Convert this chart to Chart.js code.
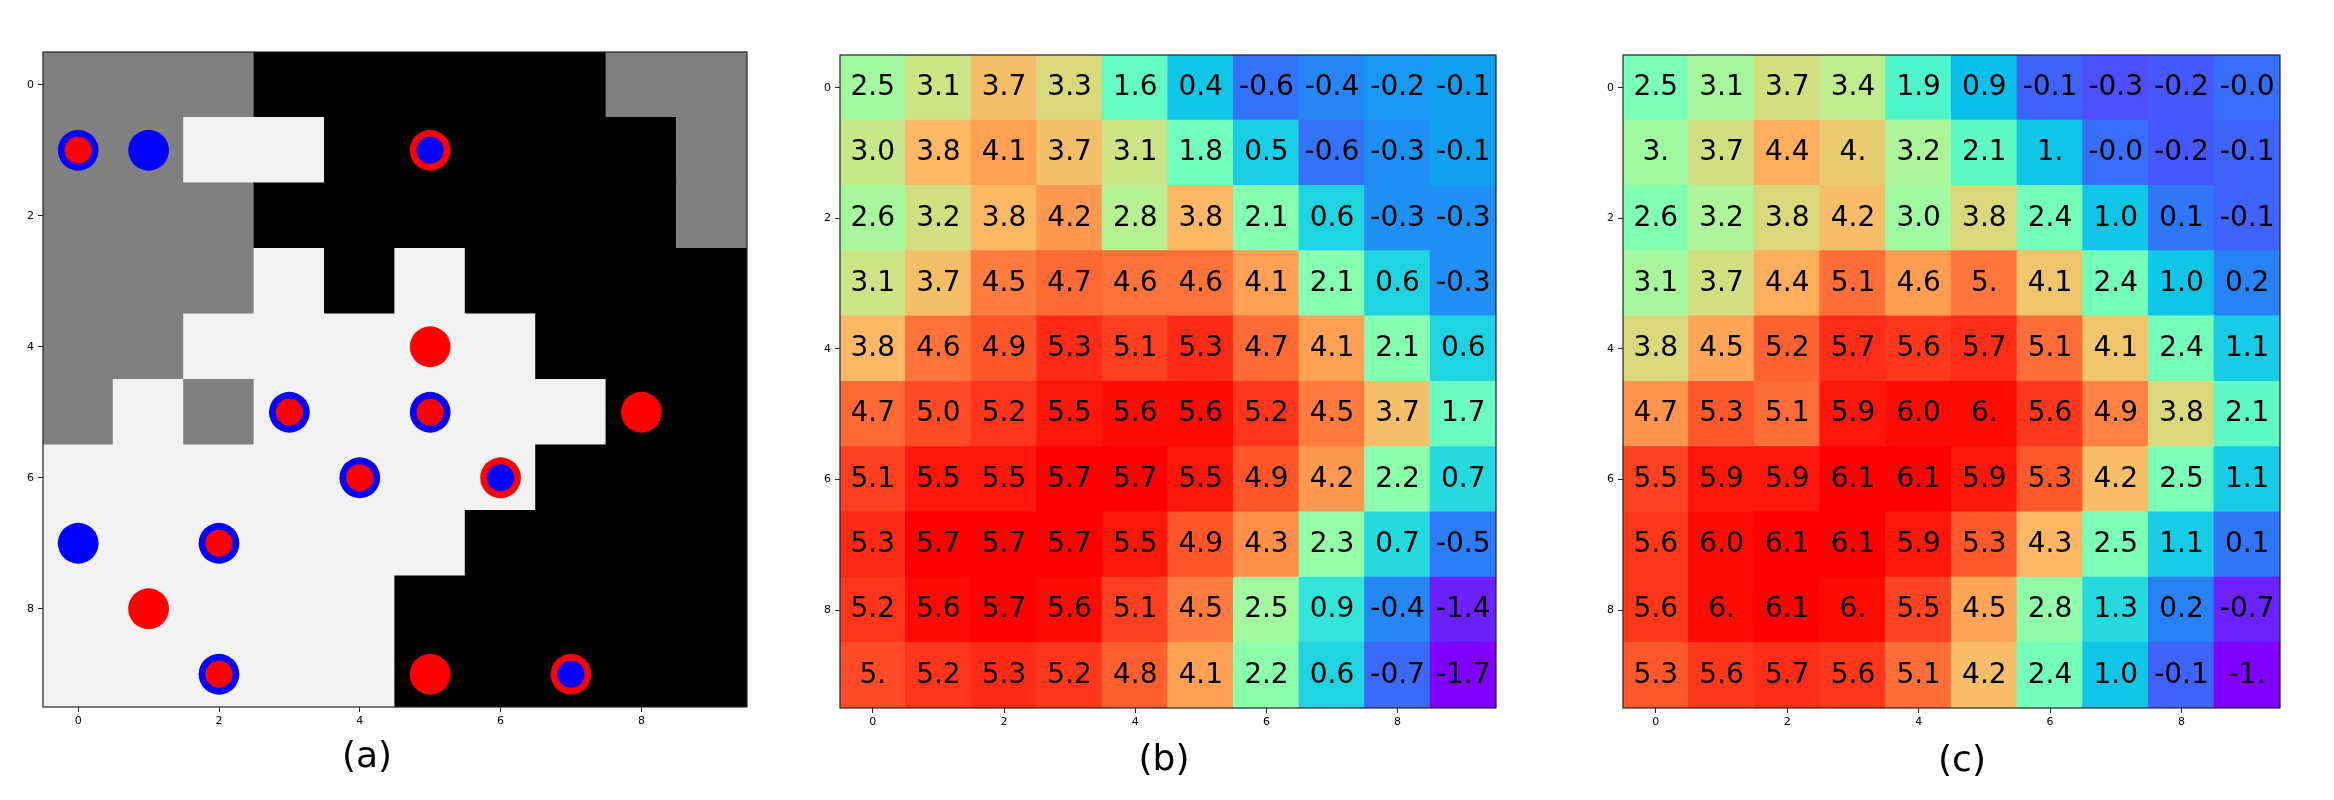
<!DOCTYPE html>
<html>
<head>
<meta charset="utf-8">
<script src="https://cdn.jsdelivr.net/npm/chart.js@4.4.1/dist/chart.umd.min.js"></script>
<style>
  body { margin: 0; width: 2334px; height: 800px; background: #fff; position: relative; overflow: hidden; font-family: 'DejaVu Sans'; }
  .panel { position: absolute; top: 0; height: 800px; }
  .caption { position: absolute; width: 200px; text-align: center; font-size: 36px; line-height: 36px; color: #000; }
</style>
</head>
<body>
<div class="panel" style="left:0;width:760px"><canvas id="mapChart"></canvas></div>
<div class="panel" style="left:800px;width:720px"><canvas id="estChart"></canvas></div>
<div class="panel" style="left:1580px;width:754px"><canvas id="predChart"></canvas></div>
<div class="caption" style="left:267px;top:737px">(a)</div>
<div class="caption" style="left:1064px;top:740px">(b)</div>
<div class="caption" style="left:1862px;top:741px">(c)</div>
<script>
const gridTicks = [0, 2, 4, 6, 8];

// (a) gray level of each cell, row by row (0 = black, 0.5 = gray, 0.95 = free)
const mapRows = [
  [0.5, 0.5, 0.5, 0, 0, 0, 0, 0, 0.5, 0.5],
  [0.5, 0.5, 0.95, 0.95, 0, 0, 0, 0, 0, 0.5],
  [0.5, 0.5, 0.5, 0, 0, 0, 0, 0, 0, 0.5],
  [0.5, 0.5, 0.5, 0.95, 0, 0.95, 0, 0, 0, 0],
  [0.5, 0.5, 0.95, 0.95, 0.95, 0.95, 0.95, 0, 0, 0],
  [0.5, 0.95, 0.5, 0.95, 0.95, 0.95, 0.95, 0.95, 0, 0],
  [0.95, 0.95, 0.95, 0.95, 0.95, 0.95, 0.95, 0, 0, 0],
  [0.95, 0.95, 0.95, 0.95, 0.95, 0.95, 0, 0, 0, 0],
  [0.95, 0.95, 0.95, 0.95, 0.95, 0, 0, 0, 0, 0],
  [0.95, 0.95, 0.95, 0.95, 0.95, 0, 0, 0, 0, 0]
];

// (a) markers as [col, row]
const blueOuter = [[0, 1], [1, 1], [3, 5], [5, 5], [4, 6], [0, 7], [2, 7], [2, 9]];
const redOuter = [[5, 1], [5, 4], [8, 5], [6, 6], [1, 8], [5, 9], [7, 9]];
const redInner = [[0, 1], [3, 5], [5, 5], [4, 6], [2, 7], [2, 9]];
const blueInner = [[5, 1], [6, 6], [7, 9]];

// (b) values as printed
const estRows = [
  ['2.5', '3.1', '3.7', '3.3', '1.6', '0.4', '-0.6', '-0.4', '-0.2', '-0.1'],
  ['3.0', '3.8', '4.1', '3.7', '3.1', '1.8', '0.5', '-0.6', '-0.3', '-0.1'],
  ['2.6', '3.2', '3.8', '4.2', '2.8', '3.8', '2.1', '0.6', '-0.3', '-0.3'],
  ['3.1', '3.7', '4.5', '4.7', '4.6', '4.6', '4.1', '2.1', '0.6', '-0.3'],
  ['3.8', '4.6', '4.9', '5.3', '5.1', '5.3', '4.7', '4.1', '2.1', '0.6'],
  ['4.7', '5.0', '5.2', '5.5', '5.6', '5.6', '5.2', '4.5', '3.7', '1.7'],
  ['5.1', '5.5', '5.5', '5.7', '5.7', '5.5', '4.9', '4.2', '2.2', '0.7'],
  ['5.3', '5.7', '5.7', '5.7', '5.5', '4.9', '4.3', '2.3', '0.7', '-0.5'],
  ['5.2', '5.6', '5.7', '5.6', '5.1', '4.5', '2.5', '0.9', '-0.4', '-1.4'],
  ['5.', '5.2', '5.3', '5.2', '4.8', '4.1', '2.2', '0.6', '-0.7', '-1.7']
];

// (c) values as printed
const predRows = [
  ['2.5', '3.1', '3.7', '3.4', '1.9', '0.9', '-0.1', '-0.3', '-0.2', '-0.0'],
  ['3.', '3.7', '4.4', '4.', '3.2', '2.1', '1.', '-0.0', '-0.2', '-0.1'],
  ['2.6', '3.2', '3.8', '4.2', '3.0', '3.8', '2.4', '1.0', '0.1', '-0.1'],
  ['3.1', '3.7', '4.4', '5.1', '4.6', '5.', '4.1', '2.4', '1.0', '0.2'],
  ['3.8', '4.5', '5.2', '5.7', '5.6', '5.7', '5.1', '4.1', '2.4', '1.1'],
  ['4.7', '5.3', '5.1', '5.9', '6.0', '6.', '5.6', '4.9', '3.8', '2.1'],
  ['5.5', '5.9', '5.9', '6.1', '6.1', '5.9', '5.3', '4.2', '2.5', '1.1'],
  ['5.6', '6.0', '6.1', '6.1', '5.9', '5.3', '4.3', '2.5', '1.1', '0.1'],
  ['5.6', '6.', '6.1', '6.', '5.5', '4.5', '2.8', '1.3', '0.2', '-0.7'],
  ['5.3', '5.6', '5.7', '5.6', '5.1', '4.2', '2.4', '1.0', '-0.1', '-1.']
];

const estRange = [-1.7, 5.7];
const predRange = [-1.0, 6.1];

Chart.defaults.font.family = "'DejaVu Sans'";
Chart.defaults.color = '#000';

// matplotlib 'rainbow'
function rainbow(v, lo, hi) {
  const t = Math.min(1, Math.max(0, (v - lo) / (hi - lo)));
  const r = Math.min(1, Math.abs(2 * t - 0.5));
  const g = Math.sin(Math.PI * t);
  const b = Math.cos(Math.PI * t / 2);
  return `rgb(${Math.round(r * 255)},${Math.round(g * 255)},${Math.round(b * 255)})`;
}

function cellData(rows) {
  const out = [];
  rows.forEach((row, r) => row.forEach((_, c) => out.push({ x: c, y: [r - 0.5, r + 0.5] })));
  return out;
}

function axis(pos, size) {
  return {
    type: 'linear', position: pos, min: -0.5, max: 9.5, bounds: 'data',
    reverse: pos === 'left', offset: false,
    afterBuildTicks: s => { s.ticks = gridTicks.map(v => ({ value: v })); },
    afterFit: s => { if (pos === 'left') s.width = size; else s.height = size; },
    grid: { display: true, offset: false, drawOnChartArea: false, drawTicks: true, tickLength: 5, color: '#222' },
    border: { display: false },
    ticks: { color: '#000', font: { size: 11 }, padding: pos === 'left' ? 4 : 3, maxRotation: 0, autoSkip: false }
  };
}

function unitPx(chart) {
  const { x, y } = chart.scales;
  return (Math.abs(x.getPixelForValue(1) - x.getPixelForValue(0)) + Math.abs(y.getPixelForValue(1) - y.getPixelForValue(0))) / 2;
}

const frame = {
  id: 'frame',
  afterDatasetsDraw(chart) {
    const { ctx, chartArea: a } = chart;
    ctx.save();
    ctx.strokeStyle = '#222';
    ctx.lineWidth = 1.2;
    ctx.strokeRect(a.left, a.top, a.right - a.left, a.bottom - a.top);
    ctx.restore();
  }
};

const cellText = {
  id: 'cellText',
  afterDatasetsDraw(chart) {
    const ds = chart.data.datasets[0];
    if (!ds.cellLabels) return;
    const { ctx } = chart;
    ctx.save();
    ctx.font = "28px 'DejaVu Sans'";
    ctx.fillStyle = '#000';
    ctx.textAlign = 'center';
    ctx.textBaseline = 'middle';
    chart.getDatasetMeta(0).data.forEach((bar, i) => {
      ctx.fillText(ds.cellLabels[i], bar.x, (bar.y + bar.base) / 2);
    });
    ctx.restore();
  }
};

function baseOptions(pad, yWidth, xHeight) {
  return {
    responsive: true,
    maintainAspectRatio: false,
    animation: false,
    events: [],
    layout: { padding: pad },
    plugins: { legend: { display: false }, tooltip: { enabled: false } },
    scales: { x: axis('bottom', xHeight), y: axis('left', yWidth) }
  };
}

function dots(data, color, size, order) {
  return {
    type: 'scatter', data, order,
    backgroundColor: color, borderWidth: 0,
    pointRadius: ctx => unitPx(ctx.chart) * size
  };
}

new Chart(document.getElementById('mapChart'), {
  type: 'bar',
  data: {
    datasets: [
      dots(redInner, '#ff0000', 0.2, 0),
      dots(blueInner, '#0000ff', 0.2, 0),
      dots(blueOuter, '#0000ff', 0.3, 1),
      dots(redOuter, '#ff0000', 0.3, 1),
      {
        type: 'bar', order: 2,
        data: cellData(mapRows),
        backgroundColor: mapRows.flat().map(v => { const g = Math.round(v * 255); return `rgb(${g},${g},${g})`; }),
        borderWidth: 0, inflateAmount: 0.6, barPercentage: 1, categoryPercentage: 1
      }
    ]
  },
  options: baseOptions({ top: 52, right: 13, left: 0, bottom: 0 }, 43, 93),
  plugins: [frame]
});

function heatChart(id, rows, range, pad, yWidth) {
  new Chart(document.getElementById(id), {
    type: 'bar',
    data: {
      datasets: [{
        data: cellData(rows),
        cellLabels: rows.flat(),
        backgroundColor: rows.flat().map(s => rainbow(Number(s), range[0], range[1])),
        borderWidth: 0, inflateAmount: 0.6, barPercentage: 1, categoryPercentage: 1
      }]
    },
    options: baseOptions(pad, yWidth, 92),
    plugins: [frame, cellText]
  });
}

heatChart('estChart', estRows, estRange, { top: 55, right: 24, left: 0, bottom: 0 }, 40);
heatChart('predChart', predRows, predRange, { top: 55, right: 54, left: 0, bottom: 0 }, 43);
</script>
</body>
</html>
